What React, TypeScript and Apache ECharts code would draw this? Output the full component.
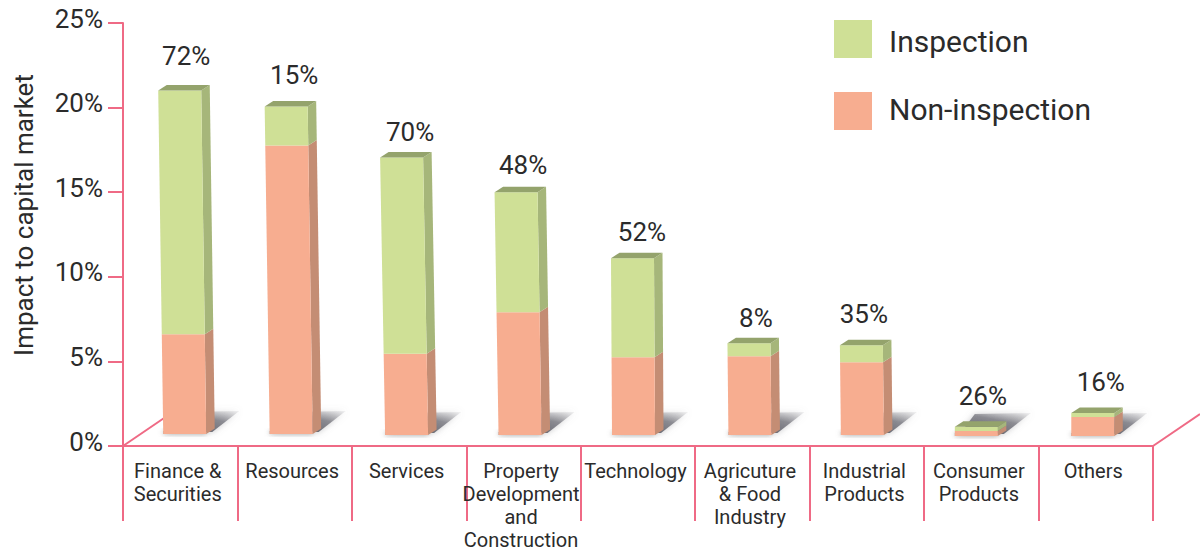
import React, { useEffect, useRef } from "react";
import * as echarts from "echarts";

// Sector names as shown beneath the axis
const categories = [
  "Finance &\nSecurities",
  "Resources",
  "Services",
  "Property\nDevelopment\nand\nConstruction",
  "Technology",
  "Agricuture\n& Food\nIndustry",
  "Industrial\nProducts",
  "Consumer\nProducts",
  "Others",
];
// Impact to capital market, in percentage points of the axis
const nonInspection = [5.9, 17.05, 4.8, 7.25, 4.6, 4.65, 4.3, 0.3, 1.12];
const inspection = [14.4, 2.3, 11.6, 7.1, 5.85, 0.77, 1.0, 0.24, 0.24];
// Inspection share printed above each column
const shareLabels = ["72%", "15%", "70%", "48%", "52%", "8%", "35%", "26%", "16%"];

const yMin = 0;
const yMax = 25;
const yStep = 5;

// Hand-placed look of the pseudo-3D columns
const barShift = [4.5, -3.5, -2.5, -3.5, -4.5, -2.5, -4.5, -5, -3];
const barLean = [5, 5, 5, 4, 1, 1, 1, 0, 0];
const floorRise = [12, 12, 11, 11, 11, 11, 11, 10, 10];
const labelShift = [6, -0.5, 1, -0.5, 4, 3.5, -3, 1.5, 5];
const labelGap = [35, 32, 26, 27, 26, 25, 31, 31, 31];

const BAR_W = 43;
const DEPTH_X = 8.5;
const DEPTH_Y = 5.5;
const PINK = "#ef6a85";
const INK = "#2b2b2b";
const FONT = "Roboto, 'Liberation Sans', sans-serif";

const GREEN = { front: "#cfe096", side: "#a6b67a", top: "#94a36c" };
const SALMON = { front: "#f7ad90", side: "#c48d74", top: "#94a36c" };

type Faces = typeof GREEN;

function renderSegment(faces: Faces, isBottom: boolean, isTop: boolean) {
  return (_params: any, api: any) => {
    const i = api.value(0);
    const lo = api.value(1);
    const hi = api.value(2);
    const rise = floorRise[i];
    const centre = api.coord([i, 0])[0] + barShift[i];
    const baseY = api.coord([i, 0])[1] - rise;
    const yLo = api.coord([i, lo])[1] - rise;
    const yHi = api.coord([i, hi])[1] - rise;
    const fullH = baseY - (api.coord([i, nonInspection[i] + inspection[i]])[1] - rise);
    const leanAt = (y: number) => (barLean[i] * (baseY - y)) / fullH;
    const l = (y: number) => centre - BAR_W / 2 - leanAt(y);
    const r = (y: number) => centre + BAR_W / 2 - leanAt(y);

    const children: any[] = [];

    if (isBottom) {
      const left = l(baseY);
      const right = r(baseY);
      // cast shadow falling back and to the right of the column
      children.push({
        type: "polygon",
        silent: true,
        shape: {
          points: [
            [left + 5, baseY - 2],
            [left + 20, baseY - 22],
            [right + 33, baseY - 23],
            [right + 6, baseY - 2],
          ],
        },
        style: {
          fill: new echarts.graphic.LinearGradient(0.35, 1, 1, 0, [
            { offset: 0, color: "rgba(95,95,105,0.95)" },
            { offset: 0.55, color: "rgba(120,120,128,0.8)" },
            { offset: 1, color: "rgba(170,170,175,0.15)" },
          ]),
          shadowBlur: 6,
          shadowColor: "rgba(130,130,135,0.5)",
        },
      });
      // soft contact shadow at the foot of the column
      children.push({
        type: "rect",
        silent: true,
        shape: { x: left, y: baseY - 3, width: BAR_W, height: 3 },
        style: { fill: "#9a9a9a", shadowBlur: 5, shadowColor: "rgba(120,120,120,0.7)" },
      });
    }

    children.push({
      type: "polygon",
      silent: true,
      shape: {
        points: [
          [r(yHi), yHi],
          [r(yHi) + DEPTH_X, yHi - DEPTH_Y],
          [r(yLo) + DEPTH_X, yLo - DEPTH_Y],
          [r(yLo), yLo],
        ],
      },
      style: { fill: faces.side },
    });
    children.push({
      type: "polygon",
      silent: true,
      shape: {
        points: [
          [l(yHi), yHi],
          [r(yHi), yHi],
          [r(yLo), yLo],
          [l(yLo), yLo],
        ],
      },
      style: { fill: faces.front },
    });

    if (isTop) {
      children.push({
        type: "polygon",
        silent: true,
        shape: {
          points: [
            [l(yHi), yHi],
            [l(yHi) + DEPTH_X, yHi - DEPTH_Y],
            [r(yHi) + DEPTH_X, yHi - DEPTH_Y],
            [r(yHi), yHi],
          ],
        },
        style: { fill: faces.top },
      });
      children.push({
        type: "text",
        silent: true,
        style: {
          text: shareLabels[i],
          x: api.coord([i, 0])[0] + labelShift[i],
          y: yHi - labelGap[i],
          align: "center",
          verticalAlign: "middle",
          fontFamily: FONT,
          fontSize: 26,
          fill: INK,
        },
      });
    }

    return { type: "group", children };
  };
}

export default function App() {
  const ref = useRef<HTMLDivElement>(null);

  useEffect(() => {
    const chart = echarts.init(ref.current!, undefined, { renderer: "svg" });
    const legendRich = { fontFamily: FONT, fontSize: 30, color: INK };
    chart.setOption({
      animation: false,
      backgroundColor: "#ffffff",
      grid: { left: 123, right: 47, top: 23, bottom: 105, containLabel: false, outerBoundsMode: "none" },
      legend: {
        data: ["Inspection", "Non-inspection"],
        orient: "vertical",
        left: 834,
        top: 20,
        padding: 0,
        itemWidth: 38,
        itemHeight: 38,
        itemGap: 34,
        icon: "rect",
        selectedMode: false,
        formatter: (name: string) => (name === "Inspection" ? `{a|${name}}` : `{b|${name}}`),
        textStyle: {
          fontFamily: FONT,
          fontSize: 30,
          color: INK,
          rich: {
            a: { ...legendRich, padding: [4, 0, 0, 12] },
            b: { ...legendRich, padding: [0, 0, 4, 12] },
          },
        },
      },
      xAxis: {
        type: "category",
        data: categories,
        boundaryGap: true,
        axisLine: { show: true, lineStyle: { color: PINK, width: 2 } },
        axisTick: { show: true, length: 75, alignWithLabel: false, lineStyle: { color: PINK, width: 2 } },
        axisLabel: {
          interval: 0,
          margin: 13,
          fontFamily: FONT,
          fontSize: 20,
          lineHeight: 23,
          color: INK,
          verticalAlign: "top",
          padding: [0, 5, 0, 0],
        },
      },
      yAxis: {
        type: "value",
        min: yMin,
        max: yMax,
        interval: yStep,
        splitLine: { show: false },
        axisLine: { show: true, lineStyle: { color: PINK, width: 2 } },
        axisTick: { show: true, length: 15, lineStyle: { color: PINK, width: 2 } },
        axisLabel: {
          margin: 20,
          formatter: "{value}%",
          fontFamily: FONT,
          fontSize: 26,
          color: INK,
          verticalAlign: "bottom",
          lineHeight: 9,
        },
      },
      graphic: [
        {
          type: "text",
          x: 24,
          y: 215,
          rotation: Math.PI / 2,
          style: {
            text: "Impact to capital market",
            fontFamily: FONT,
            fontSize: 26,
            fill: INK,
            align: "center",
            verticalAlign: "middle",
          },
        },
        {
          type: "line",
          z: -1,
          shape: { x1: 123, y1: 446, x2: 170, y2: 414 },
          style: { stroke: PINK, lineWidth: 2 },
        },
        {
          type: "line",
          shape: { x1: 1153, y1: 446, x2: 1200, y2: 414 },
          style: { stroke: PINK, lineWidth: 2 },
        },
      ],
      series: [
        {
          name: "Non-inspection",
          type: "custom",
          itemStyle: { color: SALMON.front },
          encode: { x: 0, y: [1, 2] },
          renderItem: renderSegment(SALMON, true, false),
          data: nonInspection.map((v, i) => [i, 0, v]),
        },
        {
          name: "Inspection",
          type: "custom",
          itemStyle: { color: GREEN.front },
          encode: { x: 0, y: [1, 2] },
          renderItem: renderSegment(GREEN, false, true),
          data: inspection.map((v, i) => [i, nonInspection[i], nonInspection[i] + v]),
        },
      ],
    });
    return () => chart.dispose();
  }, []);

  return (
    <div
      ref={ref}
      style={{ position: "fixed", left: 0, top: 0, width: 1200, height: 551 }}
    />
  );
}
